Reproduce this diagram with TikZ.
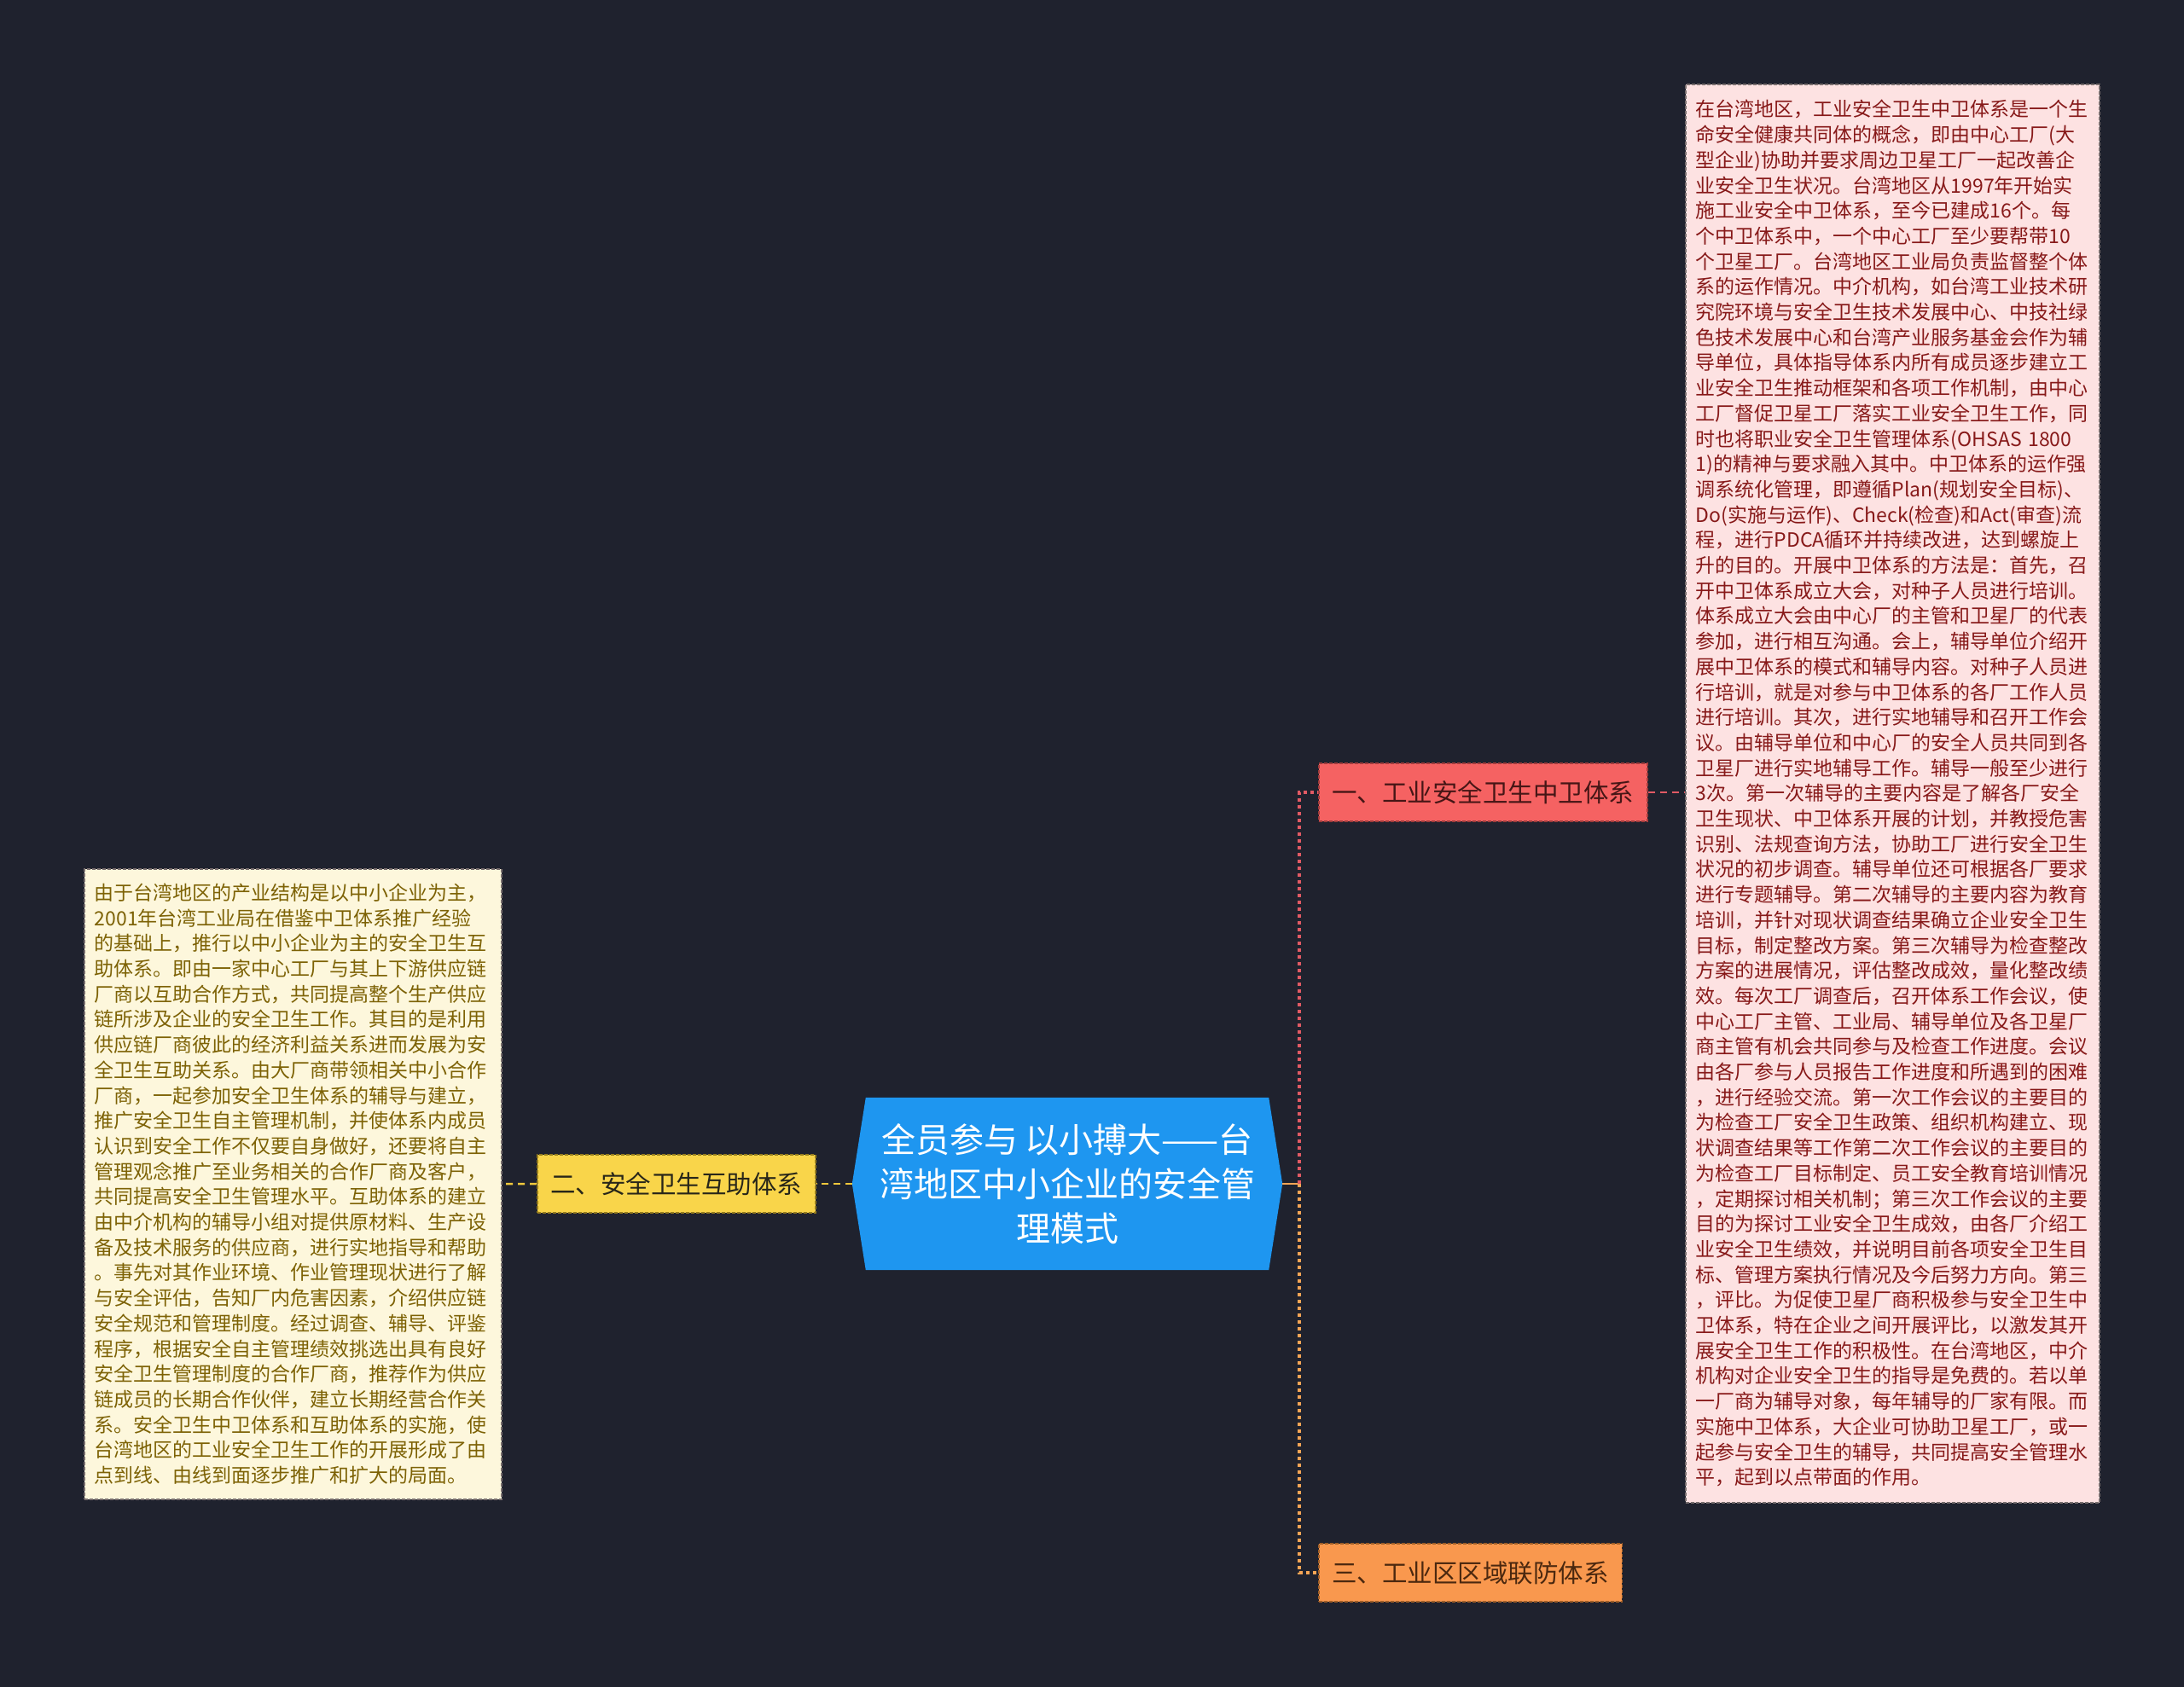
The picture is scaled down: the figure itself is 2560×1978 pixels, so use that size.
\documentclass[tikz,border=0pt]{standalone}
\usepackage{fontspec}
\setmainfont{Noto Sans CJK SC}
\usetikzlibrary{backgrounds,calc}
\definecolor{bgc}{RGB}{31,34,46}
\definecolor{rootc}{RGB}{30,150,240}
\definecolor{yelc}{RGB}{249,213,74}
\definecolor{yelb}{RGB}{150,125,30}
\definecolor{redc}{RGB}{245,98,98}
\definecolor{redb}{RGB}{160,60,60}
\definecolor{orac}{RGB}{249,152,78}
\definecolor{orab}{RGB}{160,95,40}
\definecolor{pinkc}{RGB}{253,226,226}
\definecolor{creamc}{RGB}{253,247,220}
\definecolor{pinkt}{RGB}{135,25,25}
\definecolor{creamt}{RGB}{125,98,5}
\definecolor{boxb}{RGB}{120,110,110}
\definecolor{ylin}{RGB}{240,200,60}
\definecolor{rlin}{RGB}{225,90,100}
\definecolor{olin}{RGB}{245,165,85}
\begin{document}
\begin{tikzpicture}[x=1pt,y=-1pt,
  branch/.style={draw, line width=1.5pt, dash pattern=on 4pt off 2pt, minimum height=68pt,
    inner xsep=15.5pt, inner ysep=0pt, font=\fontsize{29.5}{34}\selectfont, anchor=west},
  textbox/.style={draw=boxb, line width=1.5pt, dash pattern=on 4pt off 2pt, align=left,
    inner xsep=12pt, inner ysep=0pt, font=\fontsize{23}{29.7}\selectfont, anchor=north west},
  conn/.style={line width=2.5pt, dash pattern=on 8pt off 6pt},
  vconn/.style={line width=4pt, dash pattern=on 4pt off 4pt}]
\begin{pgfonlayer}{background}
\fill[bgc] (0,0) rectangle (2560,1978);
\end{pgfonlayer}
\useasboundingbox (0,0) rectangle (2560,1978);

% root
\node[minimum width=504pt, minimum height=202pt, inner sep=0pt, align=center, text=white,
  font=\fontsize{40}{52}\selectfont] (root) at (1251,1388)
  {全员参与 以小搏大——台\\湾地区中小企业的安全管\\理模式};
\begin{pgfonlayer}{background}
\fill[rootc] (root.west) -- ([xshift=16pt]root.north west) -- ([xshift=-16pt]root.north east)
  -- (root.east) -- ([xshift=-16pt]root.south east) -- ([xshift=16pt]root.south west) -- cycle;
\end{pgfonlayer}

% branches
\node[branch, draw=redb, fill=redc, text={rgb,255:red,70;green,22;blue,22}] (n1) at (1545,929) {一、工业安全卫生中卫体系};
\node[branch, draw=yelb, fill=yelc, text={rgb,255:red,40;green,38;blue,25}] (n2) at (629,1388) {二、安全卫生互助体系};
\node[branch, draw=orab, fill=orac, text={rgb,255:red,75;green,40;blue,15}] (n3) at (1545,1844) {三、工业区区域联防体系};

% text boxes
\node[textbox, fill=pinkc, text=pinkt, text width=461pt, minimum height=1663pt] (t1) at (1975,98) {%
在台湾地区，工业安全卫生中卫体系是一个生\\
命安全健康共同体的概念，即由中心工厂(大\\
型企业)协助并要求周边卫星工厂一起改善企\\
业安全卫生状况。台湾地区从1997年开始实\\
施工业安全中卫体系，至今已建成16个。每\\
个中卫体系中，一个中心工厂至少要帮带10\\
个卫星工厂。台湾地区工业局负责监督整个体\\
系的运作情况。中介机构，如台湾工业技术研\\
究院环境与安全卫生技术发展中心、中技社绿\\
色技术发展中心和台湾产业服务基金会作为辅\\
导单位，具体指导体系内所有成员逐步建立工\\
业安全卫生推动框架和各项工作机制，由中心\\
工厂督促卫星工厂落实工业安全卫生工作，同\\
时也将职业安全卫生管理体系(OHSAS 1800\\
1)的精神与要求融入其中。中卫体系的运作强\\
调系统化管理，即遵循Plan(规划安全目标)、\\
Do(实施与运作)、Check(检查)和Act(审查)流\\
程，进行PDCA循环并持续改进，达到螺旋上\\
升的目的。开展中卫体系的方法是：首先，召\\
开中卫体系成立大会，对种子人员进行培训。\\
体系成立大会由中心厂的主管和卫星厂的代表\\
参加，进行相互沟通。会上，辅导单位介绍开\\
展中卫体系的模式和辅导内容。对种子人员进\\
行培训，就是对参与中卫体系的各厂工作人员\\
进行培训。其次，进行实地辅导和召开工作会\\
议。由辅导单位和中心厂的安全人员共同到各\\
卫星厂进行实地辅导工作。辅导一般至少进行\\
3次。第一次辅导的主要内容是了解各厂安全\\
卫生现状、中卫体系开展的计划，并教授危害\\
识别、法规查询方法，协助工厂进行安全卫生\\
状况的初步调查。辅导单位还可根据各厂要求\\
进行专题辅导。第二次辅导的主要内容为教育\\
培训，并针对现状调查结果确立企业安全卫生\\
目标，制定整改方案。第三次辅导为检查整改\\
方案的进展情况，评估整改成效，量化整改绩\\
效。每次工厂调查后，召开体系工作会议，使\\
中心工厂主管、工业局、辅导单位及各卫星厂\\
商主管有机会共同参与及检查工作进度。会议\\
由各厂参与人员报告工作进度和所遇到的困难\\
，进行经验交流。第一次工作会议的主要目的\\
为检查工厂安全卫生政策、组织机构建立、现\\
状调查结果等工作第二次工作会议的主要目的\\
为检查工厂目标制定、员工安全教育培训情况\\
，定期探讨相关机制；第三次工作会议的主要\\
目的为探讨工业安全卫生成效，由各厂介绍工\\
业安全卫生绩效，并说明目前各项安全卫生目\\
标、管理方案执行情况及今后努力方向。第三\\
，评比。为促使卫星厂商积极参与安全卫生中\\
卫体系，特在企业之间开展评比，以激发其开\\
展安全卫生工作的积极性。在台湾地区，中介\\
机构对企业安全卫生的指导是免费的。若以单\\
一厂商为辅导对象，每年辅导的厂家有限。而\\
实施中卫体系，大企业可协助卫星工厂，或一\\
起参与安全卫生的辅导，共同提高安全管理水\\
平，起到以点带面的作用。};

\node[textbox, fill=creamc, text=creamt, text width=465pt, minimum height=739pt] (t2) at (98,1018) {%
由于台湾地区的产业结构是以中小企业为主，\\
2001年台湾工业局在借鉴中卫体系推广经验\\
的基础上，推行以中小企业为主的安全卫生互\\
助体系。即由一家中心工厂与其上下游供应链\\
厂商以互助合作方式，共同提高整个生产供应\\
链所涉及企业的安全卫生工作。其目的是利用\\
供应链厂商彼此的经济利益关系进而发展为安\\
全卫生互助关系。由大厂商带领相关中小合作\\
厂商，一起参加安全卫生体系的辅导与建立，\\
推广安全卫生自主管理机制，并使体系内成员\\
认识到安全工作不仅要自身做好，还要将自主\\
管理观念推广至业务相关的合作厂商及客户，\\
共同提高安全卫生管理水平。互助体系的建立\\
由中介机构的辅导小组对提供原材料、生产设\\
备及技术服务的供应商，进行实地指导和帮助\\
。事先对其作业环境、作业管理现状进行了解\\
与安全评估，告知厂内危害因素，介绍供应链\\
安全规范和管理制度。经过调查、辅导、评鉴\\
程序，根据安全自主管理绩效挑选出具有良好\\
安全卫生管理制度的合作厂商，推荐作为供应\\
链成员的长期合作伙伴，建立长期经营合作关\\
系。安全卫生中卫体系和互助体系的实施，使\\
台湾地区的工业安全卫生工作的开展形成了由\\
点到线、由线到面逐步推广和扩大的局面。};

% connectors
\coordinate (j) at (1523,1388);
\draw[conn, ylin] (root.west) -- (n2.east);
\draw[conn, ylin] (n2.west) -- (t2.east);
\draw[line width=2.5pt, olin] (root.east) -- (j);
\draw[vconn, rlin] (j) |- (n1.west);
\draw[vconn, olin] (j) |- (n3.west);
\draw[conn, rlin] (n1.east) -- (n1.east -| t1.west);
\end{tikzpicture}
\end{document}
